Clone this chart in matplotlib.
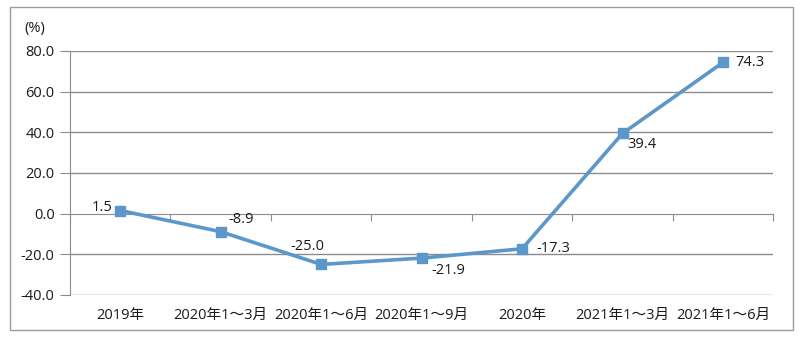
import numpy as np
import matplotlib.pyplot as plt
from matplotlib.patches import Rectangle

plt.rcParams['font.family'] = ['Open Sans', 'Noto Sans CJK SC', 'DejaVu Sans']

categories = ['2019年', '2020年1～3月', '2020年1～6月', '2020年1～9月',
              '2020年', '2021年1～3月', '2021年1～6月']
values = [1.5, -8.9, -25.0, -21.9, -17.3, 39.4, 74.3]
yticks = [-40, -20, 0, 20, 40, 60, 80]

# label offsets in pixels (dx, dy, ha)
label_pos = [(-8, 3, 'right'), (8, 12, 'left'), (-14, 18, 'center'),
             (10, -12, 'left'), (14, 0, 'left'), (5, -11, 'left'), (12, 0, 'left')]

line_color = '#5B97C9'
grid_color = '#8c8c8c'
fs = 10.5

fig = plt.figure(figsize=(8, 3.39), dpi=100)
fig.patches.append(Rectangle((0.012, 0.027), 0.979, 0.952, transform=fig.transFigure,
                             fill=False, edgecolor='#9a9a9a', linewidth=1))
ax = fig.add_axes([0.0875, 0.13, 0.879, 0.72])

x = np.arange(len(categories))
ax.plot(x, values, color=line_color, linewidth=2.6, marker='s', markersize=7,
        markerfacecolor=line_color, markeredgecolor=line_color, zorder=3)

for xi, v, (dx, dy, ha) in zip(x, values, label_pos):
    ax.annotate(f'{v:.1f}', (xi, v), xytext=(dx, dy), textcoords='offset pixels',
                ha=ha, va='center', fontsize=fs, color='#1a1a1a')

ax.set_xlim(-0.5, len(categories) - 0.5)
ax.set_ylim(-40, 80)
ax.set_yticks(yticks)
ax.set_yticklabels([f'{t:.1f}' for t in yticks], fontsize=fs, color='#1a1a1a')
for t in yticks:
    if t != 0:
        ax.axhline(t, color=grid_color, linewidth=1, zorder=1)

ax.spines['top'].set_visible(False)
ax.spines['right'].set_visible(False)
ax.spines['left'].set_color(grid_color)
ax.spines['bottom'].set_color(grid_color)
ax.spines['bottom'].set_position(('data', 0))
ax.tick_params(axis='y', length=7, color=grid_color, pad=4)
ax.set_xticks(np.arange(len(categories) + 1) - 0.5)
ax.set_xticklabels([])
ax.tick_params(axis='x', length=5, color=grid_color, direction='out')

for xi, c in zip(x, categories):
    ax.text(xi, -0.085, c, transform=ax.get_xaxis_transform(), ha='center',
            va='center', fontsize=fs, color='#1a1a1a')

fig.text(0.03, 0.915, '(%)', fontsize=fs, color='#1a1a1a', ha='left', va='center')

fig.savefig('out.png', dpi=100)
